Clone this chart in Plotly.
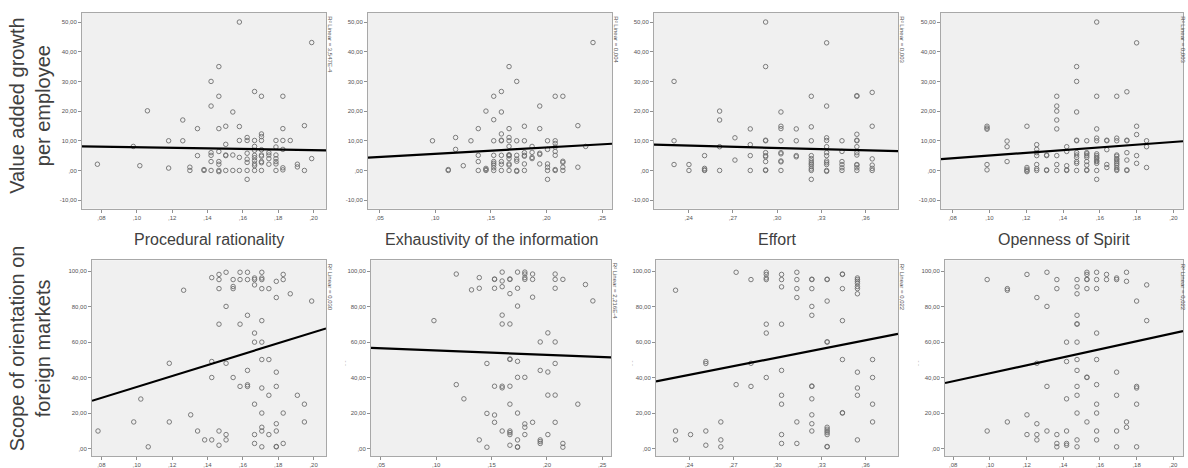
import plotly.graph_objects as go

W, H = 1188, 468

col_titles = ["Procedural rationality", "Exhaustivity of the information", "Effort", "Openness of Spirit"]
row_titles = ["Value added growth<br>per employee", "Scope of orientation on<br>foreign markets"]

# ---------------- data: x level -> list of y values ----------------
vag_procedural = {
    0.0777: [2.1], 0.098: [8.1], 0.1017: [1.6], 0.106: [20.1], 0.118: [10, 0.8],
    0.126: [17, 10], 0.130: [1.1, 0], 0.1343: [14.1, 5], 0.138: [0, 0.3],
    0.142: [30, 21.7, 6, 5.1, 3, 0], 0.1464: [35, 25, 14.1, 6.4, 3, 2.1, 0, -0.4],
    0.1503: [14.9, 8.8, 5.2, 5, 0], 0.1543: [19.7, 5.2, 0], 0.158: [50, 14.8, 10.1, 4.4, 0],
    0.1624: [11.1, 10.1, 5.8, 3.8, 2.7, 0, -3],
    0.1666: [26.6, 10.1, 8.1, 6.8, 5.1, 4.3, 3.3, 2.2, 1.6, 0],
    0.1705: [25, 12.3, 11.4, 10.1, 7, 5.2, 4.8, 3, 2.6, 0],
    0.1747: [6, 5.2, 4, 2.1], 0.1787: [10.1, 7.9, 5.2, 4, 3, 2.2, 0],
    0.1826: [25, 14.1, 10.1, 7.1, 0.9, 0.2], 0.1868: [10.1], 0.1908: [2.1, 1.2],
    0.1948: [15.1, 0], 0.1989: [43.1, 4],
}
vag_exhaustivity = {
    0.0975: [10], 0.1117: [0.3, 0], 0.1183: [11.1, 7.1], 0.1252: [1.6], 0.1321: [10],
    0.1387: [14.1, 5.1, 3, 0], 0.1456: [20, 0.7, 0.3, 0],
    0.1526: [25, 17.1, 10, 5.1, 3, 2.4, 1.8, 0.9, 0],
    0.1595: [26.6, 19.7, 12.3, 10, 10.2, 5.1, 3, 2.1, 0],
    0.1664: [35, 14.1, 11.1, 10, 8.1, 5.3, 5.1, 4.9, 4, 2.2, 1.8, 0],
    0.1733: [30, 10, 5.1, 3.8, 3.1, 0, -0.3], 0.1802: [14.9, 10, 6, 5.1, 4.8, 2.2, 0],
    0.1871: [8.1, 6.1, 4.4, 4], 0.194: [21.7, 14.1, 5.8, 5.4, 2.2],
    0.201: [10, 7.1, 2.2, 1.1, 0, -3], 0.2079: [25, 10, 9.1, 7.9, 6.4, 5.1, 0.3, 0],
    0.2148: [25, 3.1, 2.7, 1.1, 0], 0.2283: [15.1, 1.1], 0.2353: [8.1], 0.2419: [43.1],
}
vag_effort = {
    0.2301: [30, 10, 2], 0.2402: [2, 0], 0.2508: [5, 0.7, 0.2, 0], 0.261: [20, 17, 8, 0],
    0.2714: [11, 3.5], 0.2818: [14, 8.7, 5, 0],
    0.2922: [50, 35, 10, 10.2, 6, 5, 4.6, 3, 0, 0.2],
    0.3026: [19.7, 14.9, 14.1, 10, 6, 5.6, 3.2, 2.9, 0], 0.313: [14, 10, 5, 4.6],
    0.3232: [25, 14.7, 10, 5, 4, 3.2, 2.5, 2, 1.3, 0.5, 0, -3],
    0.3336: [43, 21.7, 11, 10.1, 8, 6, 5, 3.2, 2.6, 2, 0, -0.3],
    0.344: [10, 6.4, 3, 2, 0.9, 0],
    0.3541: [25, 25.2, 12.2, 10, 10.2, 8, 6, 5.2, 2, 1.8, 0.9, 0],
    0.3645: [26.3, 14.9, 3.9, 1.8, 0.7, 0],
}
vag_openness = {
    0.0987: [14.9, 14.3, 13.9, 2, 0.2], 0.1096: [9.9, 8, 3], 0.1204: [14.9, 1, 0.4, -0.1, -0.4],
    0.1257: [8.7, 7.1, 6, 5, 2, 0.6, 0], 0.1311: [5, 5.2, 0, 0.2],
    0.1366: [25, 21.7, 20, 17, 14, 5, 2, 0], 0.142: [8, 6.4, 1.6, 0, 0.2],
    0.1474: [35, 30, 19.7, 10, 10.2, 6, 5.2, 4.4, 3, 2.4, 0],
    0.1529: [10, 6, 5.6, 5, 4.4, 3, 1.8, 0.2, 0],
    0.1583: [50, 25, 14, 10.9, 10, 5.6, 5, 4.4, 4, 3.3, 3, 2.4, 0, -3],
    0.1638: [10, 10.2, 7, 2, 1],
    0.1692: [25, 10.9, 10, 5.2, 4.8, 4, 3.6, 3, 2.4, 1.8, 1, 0.4, 0],
    0.1747: [26.5, 10, 10.2, 6, 3.5, 0, 0.2], 0.18: [43, 14.9, 12.1, 5, 2.4],
    0.1854: [10, 8, 1],
}
scope_procedural = {
    0.0781: [10], 0.0983: [15.1], 0.1023: [28], 0.1065: [1.1], 0.1184: [48.1, 15.1],
    0.1265: [89.2], 0.1305: [19.1], 0.1344: [10], 0.1384: [5],
    0.1424: [96.3, 49.1, 40.1, 5], 0.1465: [98.1, 95.2, 90.1, 70.1, 10, 2],
    0.1505: [99.3, 80.1, 48.1, 8, 5], 0.1545: [95.2, 91.3, 90.1, 40.1],
    0.1584: [99.3, 95.2, 70.1, 35.1], 0.1626: [99.3, 95.2, 75.1, 44.1, 36, 35.1],
    0.1666: [96.1, 95.2, 92.2, 65.1, 60, 25.1, 8, 3],
    0.1707: [99.3, 96.1, 95.2, 90.1, 72.1, 60, 50.2, 34.2, 20.1, 12.1, 10, 1.1],
    0.1747: [90.1, 50.2, 30.1, 8], 0.1789: [94.2, 85.1, 43.1, 35.1, 14.1, 10, 1.1, 1.3],
    0.1828: [98.1, 95.2, 20.1, 3], 0.1868: [87.2], 0.1908: [30.1], 0.1948: [25.1, 15.1],
    0.1989: [83.1],
}
scope_exhaustivity = {
    0.0979: [72.1], 0.1181: [98.3, 36.1], 0.125: [28.1], 0.1319: [89.4],
    0.1389: [96.3, 90.3, 5], 0.1458: [48, 19.9, 0.9],
    0.1527: [95.3, 95.5, 90.3, 35.2, 19, 14.9],
    0.1596: [99.4, 94.4, 91.2, 75.2, 70.2, 35.2, 34.3, 10],
    0.1666: [95.3, 95.5, 87.3, 70.2, 50.3, 50.5, 35.2, 25.1, 10, 9.1, 8, 2],
    0.1735: [99.4, 90.3, 80.3, 49.2, 40.2, 20.1, 5, 0.9, 1.1],
    0.1801: [99.4, 98.3, 96.3, 95.3, 40.2, 14, 12.1, 8], 0.1871: [98.3, 95.3, 85.3, 14.9],
    0.194: [60.1, 44.1, 5, 4.1, 3], 0.2009: [65.2, 43.2, 30.2, 8],
    0.2075: [98.3, 95.3, 90.3, 60.1, 48, 30.2, 14.9], 0.2145: [95.3, 3, 0.9],
    0.228: [25.1], 0.2349: [92.4], 0.2416: [83.2],
}
scope_effort = {
    0.2307: [89.2, 10, 5], 0.2409: [8], 0.2513: [49.1, 48, 10, 2], 0.2615: [15.1, 5, 1.1],
    0.2719: [99.3, 36.1], 0.282: [95.2, 48.1, 35.1],
    0.2924: [99.3, 98.1, 96.1, 95.2, 70.1, 65.1, 40.1],
    0.3028: [98.1, 95.2, 91.1, 70.1, 44.1, 30.1, 25.1, 8, 3],
    0.3132: [99.3, 95.2, 90.1, 85.1, 15.1, 3],
    0.3234: [95.2, 95.4, 90.1, 80.1, 75.1, 35.1, 35.3, 28.1, 19.1, 14.1, 10],
    0.3338: [95.2, 95.4, 83.1, 60, 60.2, 12.1, 11, 10, 9.1, 8, 1.1, 1.3],
    0.3442: [98.1, 98.3, 90.1, 72.1, 50.2, 20.1, 20.3],
    0.3544: [96.1, 95.2, 94.2, 93.1, 91.3, 90.1, 87.2, 43.1, 34.2, 30.1, 5],
    0.3647: [50.2, 40.1, 25.1, 15.1],
}
scope_openness = {
    0.0985: [95.2, 10], 0.1095: [90.1, 89.2, 15.1], 0.1202: [98.1, 19.1, 8],
    0.1256: [85.1, 48.1, 14.1, 8, 5], 0.1311: [99.3, 80.1, 35.1, 10],
    0.1365: [95.2, 90.1, 8, 3, 1.1], 0.1418: [60, 49.1, 28.1, 10, 3, 2],
    0.1475: [95.2, 91.1, 87.2, 75.1, 70.1, 70.3, 60, 50.2, 44.1, 35.1, 30.1, 20.1, 5, 1.1],
    0.1529: [99.3, 98.1, 95.2, 95.4, 90.1, 40.1, 40.3, 15.1],
    0.1582: [99.3, 95.2, 90.1, 65.1, 50.2, 36.1, 25.1, 20.1, 10, 5],
    0.1636: [98.1, 95.2], 0.1691: [96.1, 95.2, 43.1, 30.1, 10, 1.1],
    0.1745: [99.3, 94.2, 15.1, 12.1], 0.18: [83.1, 35.1, 34.2, 25.1, 1.1],
    0.1855: [92.2, 72.1],
}

# linear fit (intercept, slope)
top_fit_intercept = [8.75, 3.455, 11.58, 0.41]
top_fit_slope = [-9.42, 21.4, -13.3, 46.0]
bot_fit_intercept = [4.02, 57.82, 2.51, 19.98]
bot_fit_slope = [307.6, -24.9, 162.8, 225.4]

r2_top = ["R² Linear = 3,547E-4", "R² Linear = 0,004", "R² Linear = 0,003", "R² Linear = 0,003"]
r2_bot = ["R² Linear = 0,030", "R² Linear = 2,216E-4", "R² Linear = 0,022", "R² Linear = 0,022"]

# tick values / labels
x_ticks = [
    [0.08, 0.10, 0.12, 0.14, 0.16, 0.18, 0.20],
    [0.05, 0.10, 0.15, 0.20, 0.25],
    [0.24, 0.27, 0.30, 0.33, 0.36],
    [0.08, 0.10, 0.12, 0.14, 0.16, 0.18, 0.20],
]
x_tick_text = [
    [",08", ",10", ",12", ",14", ",16", ",18", ",20"],
    [",05", ",10", ",15", ",20", ",25"],
    [",24", ",27", ",30", ",33", ",36"],
    [",08", ",10", ",12", ",14", ",16", ",18", ",20"],
]
top_y_ticks = [-10, 0, 10, 20, 30, 40, 50]
top_y_text = ["-10,00", ",00", "10,00", "20,00", "30,00", "40,00", "50,00"]
bot_y_ticks = [0, 20, 40, 60, 80, 100]
bot_y_text = [",00", "20,00", "40,00", "60,00", "80,00", "100,00"]

# ---------------- layout geometry (pixels) ----------------
top_box_x = [(82, 326), (368, 612), (654, 898), (941, 1183)]
bot_box_x = [(92, 326), (371, 611), (656, 898), (945, 1183)]
top_box_y = (13, 211)
bot_box_y = (263, 461)
top_x_range = [(0.069, 0.207), (0.0395, 0.259), (0.2165, 0.382), (0.0737, 0.2052)]
bot_x_range = [(0.0747, 0.207), (0.041, 0.258), (0.2174, 0.382), (0.0755, 0.2053)]
top_y_range = (-12.9, 53.1)
bot_y_range = (-4.1, 106.1)

top_data = [vag_procedural, vag_exhaustivity, vag_effort, vag_openness]
bot_data = [scope_procedural, scope_exhaustivity, scope_effort, scope_openness]

fig = go.Figure()
layout = dict(
    width=W, height=H, margin=dict(l=0, r=0, t=0, b=0),
    paper_bgcolor="white", plot_bgcolor="#F0F0F0", showlegend=False,
    font=dict(family="Liberation Sans, Arial, sans-serif"),
)
annotations = []

def px_x(p):
    return p / W

def px_y(p):
    return 1 - p / H

axis_common = dict(
    showgrid=False, zeroline=False, showline=True, mirror=True,
    linecolor="#A8A8A8", linewidth=1, ticks="outside", ticklen=3, tickwidth=1,
    tickcolor="#909090", tickfont=dict(size=6, color="#555555"),
)

idx = 0
for row in range(2):
    data = top_data if row == 0 else bot_data
    boxes = top_box_x if row == 0 else bot_box_x
    by = top_box_y if row == 0 else bot_box_y
    xr = top_x_range if row == 0 else bot_x_range
    yr = top_y_range if row == 0 else bot_y_range
    yt = top_y_ticks if row == 0 else bot_y_ticks
    ytt = top_y_text if row == 0 else bot_y_text
    ints = top_fit_intercept if row == 0 else bot_fit_intercept
    slopes = top_fit_slope if row == 0 else bot_fit_slope
    r2 = r2_top if row == 0 else r2_bot
    for c in range(4):
        idx += 1
        xa = "x" if idx == 1 else f"x{idx}"
        ya = "y" if idx == 1 else f"y{idx}"
        xs, ys = [], []
        for xv, yl in data[c].items():
            for yv in yl:
                xs.append(xv)
                ys.append(yv)
        fig.add_trace(go.Scatter(
            x=xs, y=ys, mode="markers", xaxis=xa, yaxis=ya,
            marker=dict(symbol="circle-open", size=4.5, color="#6E6E6E", line=dict(width=0.9)),
        ))
        lx = [xr[c][0], xr[c][1]]
        ly = [ints[c] + slopes[c] * v for v in lx]
        fig.add_trace(go.Scatter(
            x=lx, y=ly, mode="lines", xaxis=xa, yaxis=ya,
            line=dict(color="black", width=2.2),
        ))
        xk = "xaxis" if idx == 1 else f"xaxis{idx}"
        yk = "yaxis" if idx == 1 else f"yaxis{idx}"
        layout[xk] = dict(
            axis_common, domain=[px_x(boxes[c][0]), px_x(boxes[c][1])],
            range=list(xr[c]), tickvals=x_ticks[c], ticktext=x_tick_text[c],
            anchor=ya,
        )
        layout[yk] = dict(
            axis_common, domain=[px_y(by[1]), px_y(by[0])],
            range=list(yr), tickvals=yt, ticktext=ytt, anchor=xa,
        )
        if c == 3:
            ax_x, anchor = px_x(W), "right"
        else:
            ax_x, anchor = px_x(boxes[c][1] + 4), "center"
        annotations.append(dict(
            text=r2[c], xref="paper", yref="paper",
            x=ax_x, y=px_y(by[0] + 1),
            xanchor=anchor, yanchor="top", textangle=90, showarrow=False,
            font=dict(size=6, color="#555555"),
        ))

# column titles
for c in range(4):
    cx = (bot_box_x[c][0] + bot_box_x[c][1]) / 2
    annotations.append(dict(
        text=col_titles[c], xref="paper", yref="paper", x=px_x(cx), y=px_y(242),
        xanchor="center", yanchor="middle", showarrow=False,
        font=dict(size=16, color="#404040"),
    ))

# row titles
for r, cy in enumerate([107, 352]):
    annotations.append(dict(
        text=row_titles[r], xref="paper", yref="paper", x=px_x(30), y=px_y(cy),
        xanchor="center", yanchor="middle", textangle=-90, showarrow=False,
        font=dict(size=20, color="#404040"), align="center",
    ))

# faint remnants of axis titles
for px in [345, 632, 918]:
    annotations.append(dict(
        text="- -", xref="paper", yref="paper", x=px_x(px), y=px_y(367),
        xanchor="center", yanchor="middle", textangle=-90, showarrow=False,
        font=dict(size=6, color="#A0A0A0"),
    ))

layout["annotations"] = annotations
fig.update_layout(**layout)
fig.write_html("out.html")
